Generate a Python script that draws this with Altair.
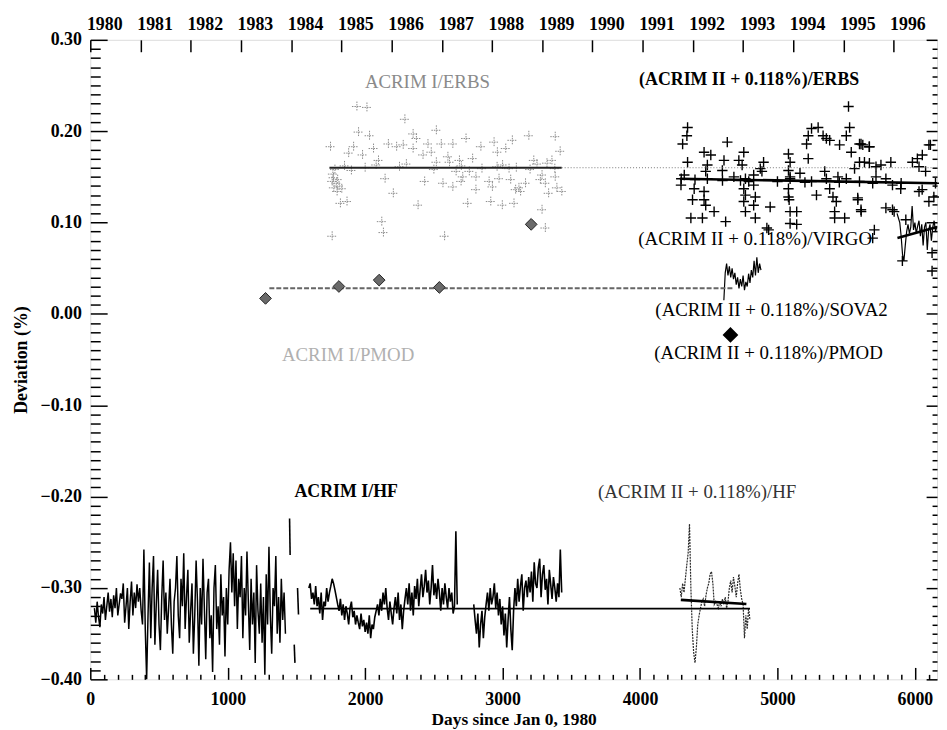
import altair as alt
import pandas as pd

FONT = "Liberation Serif"

# ---------------- data ----------------
erbs1_days = [1940, 2013, 1748, 1952, 2032, 1916, 1880, 1981, 2061, 2097, 2169, 2229, 2277, 2289, 2349, 2373,
              2457, 2518, 2554, 2638, 2349, 2421, 2481, 2518, 2602, 2614, 2686, 2734, 2782, 2842, 2938, 2962,
              3023, 3071, 3191, 3383, 3419, 3227, 3323, 3359,
              1760, 1772, 1796, 1820, 1868, 2145, 2205, 2121, 2133, 1760, 2385, 2433, 2566, 2638, 2578, 2698,
              2746, 2806, 2806, 2914, 2926, 2998, 2974, 3059, 3083, 3095, 3119, 3131, 3167, 3287, 3275, 3311,
              3335, 3383, 3395, 3431, 3287, 3311, 2758, 2710, 2662, 2902, 3047,
              1780, 1850, 1900, 2000, 2080, 2250, 2300, 2500, 2700, 2850, 2960, 3000, 3100, 3200, 3250, 3380,
              1765, 1770, 1790, 1800, 1810, 1830]
erbs1_vals = [0.227, 0.226, 0.183, 0.199, 0.195, 0.183, 0.176, 0.174, 0.181, 0.168, 0.186, 0.183, 0.185, 0.213, 0.197, 0.192,
              0.186, 0.201, 0.186, 0.186, 0.181, 0.174, 0.177, 0.166, 0.172, 0.166, 0.168, 0.192, 0.170, 0.183, 0.188, 0.177,
              0.181, 0.190, 0.195, 0.194, 0.178, 0.168, 0.165, 0.168,
              0.145, 0.138, 0.134, 0.121, 0.123, 0.148, 0.132, 0.101, 0.089, 0.085, 0.119, 0.145, 0.143, 0.139, 0.085, 0.145,
              0.121, 0.150, 0.136, 0.123, 0.139, 0.119, 0.148, 0.147, 0.121, 0.136, 0.138, 0.134, 0.143, 0.152, 0.147, 0.143,
              0.132, 0.150, 0.138, 0.134, 0.114, 0.094, 0.156, 0.150, 0.156, 0.145, 0.159,
              0.158, 0.162, 0.157, 0.160, 0.163, 0.161, 0.164, 0.158, 0.162, 0.159, 0.161, 0.163, 0.160, 0.158, 0.164, 0.159,
              0.153, 0.149, 0.143, 0.147, 0.140, 0.137]

erbs2_days = [4346, 4341, 4310, 4346, 4322, 4298, 4394, 4382, 4370, 4454, 4466, 4478, 4466, 4478, 4490, 4466,
              4515, 4539, 4623, 4635, 4611, 4599, 4683, 4719, 4755, 4743, 4767, 4755, 4767, 4755, 4767, 4791,
              4827, 4839, 4827, 4839, 4875, 4899, 4887, 4947, 4936, 5080, 5092, 5080, 5092, 5080, 5080, 5085,
              5092, 5140, 5092, 5140, 5164, 5224, 5212, 5224, 5248, 5296, 5332, 5356, 5380, 5452, 5501, 5525,
              5537, 5597, 5621, 5669, 5248, 5284, 5344, 5380, 5404, 5428, 5416, 5416, 5489, 5440, 5501, 5561,
              5597, 5633, 5669, 5717, 5753, 5825, 5585, 5609, 5705, 5717, 5789, 5837, 5897, 5789, 5849, 5934,
              5982, 6018, 6054, 6102, 6030, 6078, 6030, 6102, 6138, 5597, 5693, 4827, 4731, 4490, 5092, 5356,
              5517, 5608, 5668, 5584, 5608, 5837, 5693, 4923, 5909, 6125, 6125, 6053, 6113,
              4300, 4400, 4600, 5000, 5200, 5450, 5900, 6150]
erbs2_vals = [0.204, 0.195, 0.186, 0.166, 0.152, 0.141, 0.137, 0.125, 0.105, 0.105, 0.125, 0.119, 0.134, 0.156, 0.163, 0.177,
              0.174, 0.112, 0.101, 0.188, 0.168, 0.157, 0.150, 0.168, 0.177, 0.163, 0.148, 0.137, 0.130, 0.123, 0.112, 0.145,
              0.141, 0.128, 0.119, 0.105, 0.159, 0.166, 0.156, 0.117, 0.092, 0.175, 0.166, 0.157, 0.150, 0.137, 0.128, 0.125,
              0.112, 0.112, 0.099, 0.098, 0.154, 0.170, 0.186, 0.195, 0.203, 0.204, 0.195, 0.192, 0.190, 0.185, 0.195, 0.204,
              0.177, 0.186, 0.185, 0.183, 0.145, 0.130, 0.156, 0.137, 0.128, 0.123, 0.112, 0.105, 0.105, 0.150, 0.148, 0.159,
              0.166, 0.166, 0.165, 0.161, 0.163, 0.166, 0.125, 0.112, 0.092, 0.150, 0.148, 0.141, 0.137, 0.116, 0.112, 0.103,
              0.166, 0.170, 0.174, 0.185, 0.161, 0.156, 0.134, 0.123, 0.128, 0.145, 0.143, 0.152, 0.146, 0.148, 0.148, 0.148,
              0.227, 0.186, 0.183, 0.127, 0.114, 0.114, 0.083, 0.094, 0.058, 0.047, 0.067, 0.136, 0.185,
              0.148, 0.147, 0.146, 0.145, 0.144, 0.144, 0.143, 0.143]

pmod1_days = [1275, 1809, 2102, 2540, 3208]
pmod1_vals = [0.017, 0.030, 0.037, 0.029, 0.098]
pmod2_days = [4658]
pmod2_vals = [-0.023]

# HF (ACRIM I) samples, 10-day spacing
hf1a_days = list(range(30, 1430, 10))
hf1a_vals = [-0.322, -0.338, -0.315, -0.332, -0.343, -0.318, -0.328, -0.310, -0.335, -0.320,
             -0.305, -0.326, -0.312, -0.332, -0.308, -0.322, -0.300, -0.330, -0.318, -0.306,
             -0.312, -0.295, -0.338, -0.320, -0.300, -0.345, -0.315, -0.293, -0.330, -0.305, -0.322,
             -0.296, -0.315, -0.300, -0.325, -0.340, -0.258, -0.345,
             -0.400,
             -0.330, -0.272, -0.355, -0.300, -0.265, -0.362, -0.318, -0.280, -0.340, -0.368, -0.310, -0.270,
             -0.335, -0.305, -0.350, -0.322, -0.290,
             -0.340, -0.372, -0.315, -0.300, -0.265, -0.330, -0.355, -0.290, -0.320, -0.262, -0.345, -0.310,
             -0.280, -0.360, -0.325, -0.295, -0.372, -0.330, -0.270, -0.315, -0.385, -0.300, -0.340, -0.268,
             -0.322, -0.378, -0.305, -0.290, -0.355, -0.330, -0.392, -0.300,
             -0.275, -0.345, -0.320, -0.362, -0.285, -0.330, -0.310, -0.375, -0.300, -0.340,
             -0.280, -0.250, -0.305, -0.262, -0.320, -0.270, -0.345, -0.290, -0.310, -0.265,
             -0.355, -0.300, -0.330, -0.260, -0.315, -0.368, -0.290, -0.340, -0.305, -0.382, -0.275, -0.325,
             -0.350, -0.295, -0.360,
             -0.310, -0.395, -0.285, -0.340, -0.255, -0.330, -0.372, -0.300, -0.320, -0.265, -0.350, -0.310,
             -0.360, -0.290, -0.335, -0.305, -0.350]
hf1_frag_days = [[1450, 1454], [1484, 1489], [1508, 1515]]
hf1_frag_vals = [[-0.224, -0.264], [-0.362, -0.382], [-0.300, -0.329]]

hf1b_days = list(range(1590, 2680, 10))
hf1b_vals = [-0.300, -0.295, -0.312, -0.305, -0.318, -0.298, -0.320, -0.310, -0.328, -0.305, -0.335, -0.315,
             -0.320, -0.300, -0.315, -0.305, -0.298, -0.290, -0.295, -0.302, -0.310, -0.318,
             -0.325, -0.312, -0.330, -0.318, -0.335, -0.320, -0.328, -0.340, -0.322, -0.315,
             -0.332, -0.325, -0.340, -0.330, -0.338, -0.345, -0.328, -0.342, -0.335, -0.348,
             -0.338, -0.350, -0.330, -0.355, -0.340, -0.345, -0.332, -0.325, -0.318, -0.330,
             -0.312, -0.325, -0.305, -0.318, -0.300, -0.322, -0.335, -0.315, -0.328, -0.340,
             -0.322, -0.310, -0.328, -0.305, -0.335, -0.318, -0.345, -0.325, -0.312, -0.300,
             -0.318, -0.295, -0.325, -0.305, -0.330, -0.298, -0.312, -0.290, -0.320, -0.302,
             -0.285, -0.310, -0.298, -0.280, -0.305, -0.292, -0.318, -0.300, -0.275, -0.308,
             -0.295, -0.312, -0.290, -0.305, -0.325, -0.300, -0.318, -0.295, -0.310, -0.322,
             -0.300, -0.315, -0.305, -0.328, -0.320, -0.238, -0.318]

hf1c_days = list(range(2790, 3440, 10))
hf1c_vals = [-0.318, -0.335, -0.350, -0.328, -0.365, -0.340, -0.325, -0.355, -0.332, -0.318,
             -0.305, -0.325, -0.300, -0.318, -0.310, -0.295, -0.322, -0.305, -0.330, -0.312,
             -0.340, -0.320, -0.352, -0.328, -0.365, -0.335, -0.310, -0.345, -0.368, -0.325,
             -0.300, -0.320, -0.290, -0.315, -0.298, -0.285, -0.325, -0.300, -0.292, -0.310,
             -0.288, -0.305, -0.282, -0.315, -0.272, -0.295, -0.300, -0.278, -0.268, -0.310,
             -0.285, -0.275, -0.302, -0.290, -0.318, -0.280, -0.296, -0.312, -0.288, -0.300,
             -0.315, -0.295, -0.310, -0.258, -0.305]

hf2_days = list(range(4290, 4810, 10))
hf2_vals = [-0.300, -0.310, -0.295, -0.305, -0.290, -0.275, -0.262,
            -0.230,
            -0.300, -0.345, -0.370, -0.382,
            -0.365, -0.340, -0.330, -0.322, -0.315,
            -0.312, -0.320, -0.308, -0.300, -0.295,
            -0.285, -0.282, -0.295, -0.318, -0.315,
            -0.318, -0.322, -0.315, -0.320, -0.312,
            -0.318, -0.310, -0.322, -0.315, -0.300,
            -0.292, -0.305, -0.288, -0.298, -0.310,
            -0.295, -0.285, -0.302, -0.312, -0.318,
            -0.355, -0.330, -0.345, -0.322, -0.335]

sova_days = list(range(4610, 4890, 10))
sova_vals = [0.015, 0.045, 0.055, 0.042, 0.052, 0.040, 0.050, 0.038, 0.045, 0.032, 0.040, 0.028, 0.038, 0.030,
             0.042, 0.026, 0.035, 0.030, 0.044, 0.034, 0.048, 0.040, 0.058, 0.042, 0.062, 0.045, 0.055, 0.048]

virgo_days = list(range(5870, 6170, 10))
virgo_vals = [0.110, 0.105, 0.100, 0.085, 0.065, 0.058, 0.075, 0.090, 0.098, 0.088, 0.095, 0.118, 0.092, 0.100,
              0.088, 0.096, 0.102, 0.085, 0.098, 0.075, 0.095, 0.100, 0.070, 0.092, 0.098, 0.080, 0.095, 0.102,
              0.090, 0.096]

# fitted / mean lines: [start_day, end_day], [start_val, end_val]
fit_erbs1 = ([1740, 3430], [0.160, 0.160])
fit_erbs1_ext = ([3430, 6161], [0.160, 0.160])
fit_pmod1 = ([1303, 4683], [0.028, 0.028])
fit_erbs2 = ([4290, 6161], [0.148, 0.143])
fit_virgo = ([5873, 6161], [0.083, 0.095])
fit_hf1 = ([1600, 4800], [-0.3225, -0.3225])
fit_hf2 = ([4297, 4774], [-0.313, -0.3175])

label_texts = ["ACRIM I/ERBS", "(ACRIM II + 0.118%)/ERBS", "(ACRIM II + 0.118%)/VIRGO",
               "(ACRIM II + 0.118%)/SOVA2", "(ACRIM II + 0.118%)/PMOD", "ACRIM I/PMOD",
               "ACRIM I/HF", "(ACRIM II + 0.118%)/HF"]
label_days = [2453, 4794, 4838, 4957, 4935, 1876, 1862, 4416]
label_vals = [0.254, 0.256, 0.082, 0.0043, -0.043, -0.045, -0.195, -0.195]
label_colors = ["#8a8a8a", "#000000", "#000000", "#000000", "#000000", "#b0b0b0", "#000000", "#333333"]
label_weights = ["normal", "bold", "normal", "normal", "normal", "normal", "bold", "normal"]

year_labels = list(range(1980, 1997))
year_days = [1, 367, 732, 1097, 1462, 1828, 2193, 2558, 2923, 3289, 3654, 4019, 4384, 4750, 5115, 5480, 5845]

x_major = [0, 1000, 2000, 3000, 4000, 5000, 6000]
x_minor = [d for d in range(0, 6200, 100) if d % 1000 != 0]
y_major = [-0.4, -0.3, -0.2, -0.1, 0.0, 0.1, 0.2, 0.3]
y_minor = [round(-0.40 + 0.01 * i, 2) for i in range(71) if i % 10 != 0]

# ---------------- frames ----------------
def pts(days, vals):
    return pd.DataFrame({"d": days, "v": vals})

def seg(days, vals, name):
    return pd.DataFrame({"d": days, "v": vals, "seg": name})

hf1a_df = seg(hf1a_days, hf1a_vals, "a")
hf1_rest_df = pd.concat(
    [seg(dd, vv, "f%d" % i) for i, (dd, vv) in enumerate(zip(hf1_frag_days, hf1_frag_vals))] +
    [seg(hf1b_days, hf1b_vals, "b"), seg(hf1c_days, hf1c_vals, "c")], ignore_index=True)

labels_df = pd.DataFrame({"d": label_days, "v": label_vals, "t": label_texts})

x_scale = alt.Scale(domain=[0, 6161], nice=False, zero=False)
y_scale = alt.Scale(domain=[-0.40, 0.30], nice=False, zero=False)

tick_common = dict(domain=False, grid=False, tickColor="black", tickWidth=1.5, labelFlush=False,
                   labelOverlap=False, labelBound=False)
LBL = 18

ax_bottom = alt.Axis(orient="bottom", values=x_major, format="d", tickSize=12, offset=-12,
                     labelFont=FONT, labelFontSize=LBL, labelFontWeight="bold", labelColor="black",
                     labelPadding=11, title="Days since Jan 0, 1980", titleFont=FONT, titleFontSize=17.5,
                     titleFontWeight="bold", titleColor="black", titlePadding=3, **tick_common)
ax_bottom_minor = alt.Axis(orient="bottom", values=x_minor, tickSize=5, offset=-5, labels=False,
                           title=None, **tick_common)
year_expr = "'' + (%d + indexof(%s, datum.value))" % (year_labels[0], str(year_days))
ax_top = alt.Axis(orient="top", values=year_days, tickSize=12, offset=-12, labelExpr=year_expr,
                  labelAlign="left", labelOffset=-4, labelFont=FONT, labelFontSize=LBL,
                  labelFontWeight="bold", labelColor="black", labelPadding=6, title=None, **tick_common)
ax_left = alt.Axis(orient="left", values=y_major, format=".2f", tickSize=17, offset=-17,
                   labelFont=FONT, labelFontSize=LBL, labelFontWeight="bold", labelColor="black",
                   labelPadding=9, title="Deviation (%)", titleFont=FONT, titleFontSize=18,
                   titleFontWeight="bold", titleColor="black", titlePadding=10, **tick_common)
ax_left_minor = alt.Axis(orient="left", values=y_minor, tickSize=10, offset=-10, labels=False,
                         title=None, **tick_common)
ax_right = alt.Axis(orient="right", values=y_major, tickSize=11, offset=-11, labels=False,
                    title=None, **tick_common)
ax_right_minor = alt.Axis(orient="right", values=y_minor, tickSize=5, offset=-5, labels=False,
                          title=None, **tick_common)


def X(axis=None):
    if axis is None:
        return alt.X("d:Q", scale=x_scale, axis=None)
    return alt.X("d:Q", scale=x_scale, axis=axis)


def Y(axis=None):
    if axis is None:
        return alt.Y("v:Q", scale=y_scale, axis=None)
    return alt.Y("v:Q", scale=y_scale, axis=axis)


PLUS = "M-1,0L1,0M0,-1L0,1"

erbs1 = alt.Chart(pts(erbs1_days, erbs1_vals)).mark_point(
    shape=PLUS, size=100, filled=False, stroke="#8c8c8c", strokeWidth=1, strokeDash=[1.5, 1], opacity=1
).encode(x=X(ax_bottom), y=Y(ax_left))

erbs2 = alt.Chart(pts(erbs2_days, erbs2_vals)).mark_point(
    shape=PLUS, size=110, filled=False, stroke="black", strokeWidth=1.4, opacity=1
).encode(x=X(ax_bottom_minor), y=Y(ax_left_minor))

hf1a = alt.Chart(hf1a_df).mark_line(color="black", strokeWidth=1.5).encode(
    x=X(ax_top), y=Y(ax_right))
hf1b = alt.Chart(hf1_rest_df).mark_line(color="black", strokeWidth=1.6).encode(
    x=X(), y=Y(ax_right_minor), detail="seg:N")

hf2 = alt.Chart(pts(hf2_days, hf2_vals)).mark_line(color="#2a2a2a", strokeWidth=1.2, strokeDash=[2, 1]).encode(
    x=X(), y=Y())

sova = alt.Chart(pts(sova_days, sova_vals)).mark_line(color="black", strokeWidth=1.2).encode(x=X(), y=Y())
virgo = alt.Chart(pts(virgo_days, virgo_vals)).mark_line(color="black", strokeWidth=1.2).encode(x=X(), y=Y())


def fit_line(fit, color, width, dash=None):
    mk = dict(color=color, strokeWidth=width)
    if dash is not None:
        mk["strokeDash"] = dash
    return alt.Chart(pts(fit[0], fit[1])).mark_line(**mk).encode(x=X(), y=Y())


fits = [
    fit_line(fit_erbs1_ext, "#777777", 1, [1, 2]),
    fit_line(fit_erbs1, "#222222", 2.2),
    fit_line(fit_pmod1, "#666666", 2, [5, 2]),
    fit_line(fit_erbs2, "black", 2.6),
    fit_line(fit_virgo, "black", 2.6),
    fit_line(fit_hf1, "black", 1.8),
    fit_line(fit_hf2, "black", 2.6),
]

pmod1 = alt.Chart(pts(pmod1_days, pmod1_vals)).mark_point(
    shape="diamond", size=140, filled=True, fill="#6a6a6a", stroke="#222222", strokeWidth=1, opacity=1
).encode(x=X(), y=Y())
pmod2 = alt.Chart(pts(pmod2_days, pmod2_vals)).mark_point(
    shape="diamond", size=170, filled=True, fill="black", stroke="black", opacity=1
).encode(x=X(), y=Y())

texts = []
for i in range(len(label_texts)):
    sub = labels_df.iloc[[i]]
    size = 18 if label_weights[i] == "bold" else 19
    texts.append(alt.Chart(sub).mark_text(
        font=FONT, fontSize=size, fontWeight=label_weights[i], color=label_colors[i],
        align="center", baseline="middle"
    ).encode(x=X(), y=Y(), text="t:N"))

chart = alt.layer(
    erbs1, erbs2, hf1a, hf1b, hf2, sova, virgo, *fits, pmod1, pmod2, *texts
).resolve_axis(x="independent", y="independent").properties(
    width=854, height=645,
    autosize=alt.AutoSizeParams(type="none"),
    padding={"left": 83, "top": 29, "right": 2, "bottom": 48},
).configure_view(stroke="black", strokeWidth=2).configure(background="white")

chart.save("out.html", embed_options={"renderer": "svg", "actions": False})
